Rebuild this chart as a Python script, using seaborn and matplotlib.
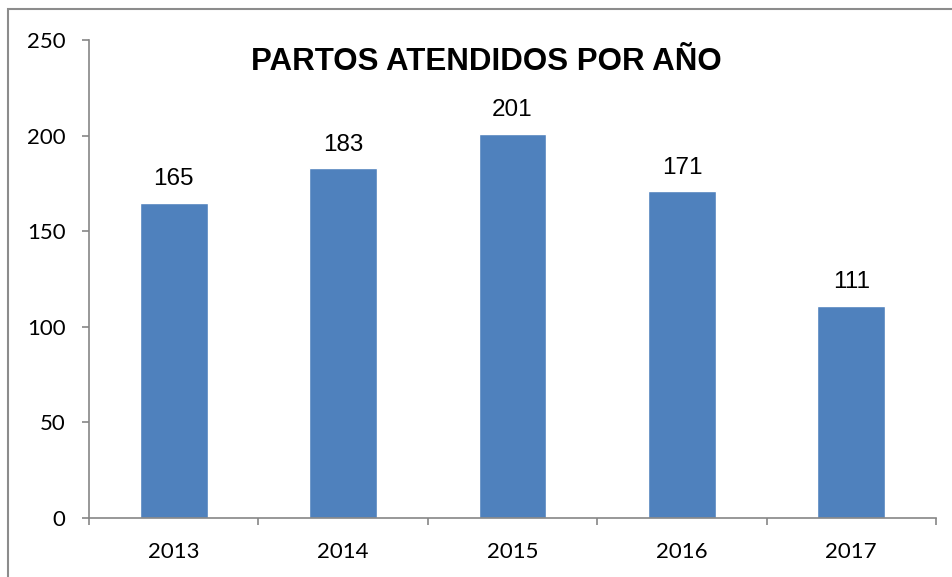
import numpy as np
import matplotlib
matplotlib.use("Agg")
import matplotlib.pyplot as plt
import seaborn as sns
import pandas as pd
from matplotlib.patches import Rectangle

years = ["2013", "2014", "2015", "2016", "2017"]
partos = [165, 183, 201, 171, 111]
y_ticks = [0, 50, 100, 150, 200, 250]

sns.set_theme(style="white")
plt.rcParams['font.family'] = ['Liberation Sans', 'DejaVu Sans']
plt.rcParams['text.color'] = 'black'
plt.rcParams['xtick.color'] = 'black'
plt.rcParams['ytick.color'] = 'black'

df = pd.DataFrame({'anio': years, 'partos': partos})

fig = plt.figure(figsize=(9.53, 5.77), dpi=100)
ax = fig.add_axes([89/953, 1 - 518/577, (936 - 89)/953, (518 - 40)/577])

sns.barplot(data=df, x='anio', y='partos', ax=ax, color='#4F81BD',
            saturation=1, width=0.4)

ax.set_xlim(-0.5, len(years) - 0.5)
ax.set_ylim(0, 250)
ax.set_yticks(y_ticks)
ax.set_xlabel('')
ax.set_ylabel('')

# valores encima de las barras
for i, v in enumerate(partos):
    ax.annotate(str(v), (i, v), xytext=(0, 9), textcoords='offset points',
                ha='center', va='bottom', fontsize=17.5, color='black')

ax.text(0.469, 0.955, 'PARTOS ATENDIDOS POR AÑO', transform=ax.transAxes,
        fontsize=22.5, fontweight='bold', ha='center', va='center',
        color='black')

for s in ['top', 'right']:
    ax.spines[s].set_visible(False)
for s in ['left', 'bottom']:
    ax.spines[s].set_color('#868686')
    ax.spines[s].set_linewidth(1.2)

ax.tick_params(axis='y', which='major', direction='out', length=5, width=1.2,
               color='#868686', labelcolor='black', left=True, labelsize=16,
               pad=12)
ax.set_xticks(np.arange(-0.5, len(years)), minor=True)
ax.tick_params(axis='x', which='major', length=0, labelsize=16, pad=17,
               labelcolor='black')
ax.tick_params(axis='x', which='minor', direction='out', length=5, width=1.2,
               color='#868686', bottom=True)
for lab in ax.get_xticklabels() + ax.get_yticklabels():
    lab.set_family(['Lato', 'DejaVu Sans'])

# marco exterior
fig.add_artist(Rectangle((8/953, -0.1), 1.2, 1 - 9/577 + 0.1,
                         transform=fig.transFigure, fill=False,
                         edgecolor='#8c8c8c', linewidth=1.5))

plt.savefig("out.png", dpi=100)
